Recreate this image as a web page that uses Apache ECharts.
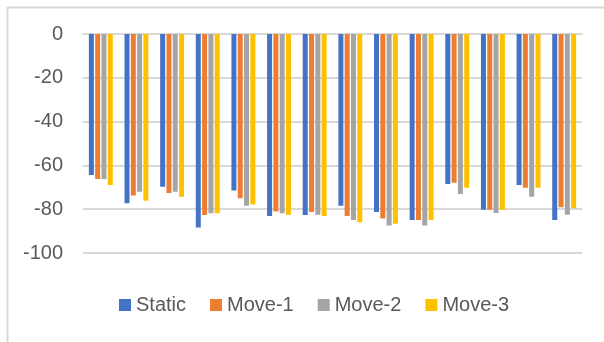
<!DOCTYPE html>
<html>
<head>
<meta charset="utf-8">
<script src="https://cdn.jsdelivr.net/npm/echarts@6/dist/echarts.min.js"></script>
<style>
  html, body { margin: 0; padding: 0; background: #fff; }
  #chart { width: 604px; height: 342px; }
</style>
</head>
<body>
<div id="chart"></div>
<script>
// Groups along the x axis (not labelled)
const categories = ['1', '2', '3', '4', '5', '6', '7', '8', '9', '10', '11', '12', '13', '14'];

// Values per series
const staticValues = [-64.4, -77.3, -69.7, -88.4, -71.5, -83.1, -82.6, -78.4, -81.3, -84.9, -68.5, -80.2, -68.9, -84.9];
const move1Values  = [-66.2, -73.7, -72.6, -82.6, -75.0, -81.1, -81.3, -83.1, -84.3, -84.9, -67.9, -80.2, -70.2, -79.1];
const move2Values  = [-66.2, -72.0, -72.0, -81.9, -78.4, -81.9, -82.5, -84.9, -87.4, -87.4, -73.1, -81.7, -74.3, -82.5];
const move3Values  = [-68.9, -76.1, -74.3, -81.9, -77.8, -82.5, -83.1, -86.0, -86.6, -84.9, -70.2, -80.2, -70.2, -79.6];

const seriesNames = ['Static', 'Move-1', 'Move-2', 'Move-3'];
const seriesColors = ['#4472C4', '#ED7D31', '#A5A5A5', '#FFC000'];
const seriesValues = [staticValues, move1Values, move2Values, move3Values];

// Y axis range and step
const yMin = -100;
const yMax = 0;
const yStep = 20;

const textColor = '#595959';
const gridColor = '#d9d9d9';
const fontFamily = '"Liberation Sans", Arial, sans-serif';

const chart = echarts.init(document.getElementById('chart'), null, { renderer: 'canvas' });

chart.setOption({
  animation: false,
  backgroundColor: '#ffffff',
  graphic: [{
    type: 'rect',
    left: 5, top: 5,
    shape: { x: 0, y: 0, width: 640, height: 380 },
    style: { fill: 'none', stroke: gridColor, lineWidth: 2 },
    silent: true
  }],
  grid: { left: 83, right: 22, top: 34, bottom: 89, containLabel: false },
  legend: {
    data: seriesNames,
    left: 114,
    top: 290,
    itemWidth: 12,
    itemHeight: 12,
    itemGap: 24,
    icon: 'rect',
    textStyle: { color: textColor, fontSize: 20, fontFamily: fontFamily }
  },
  xAxis: {
    type: 'category',
    data: categories,
    position: 'top',
    axisLine: { show: true, lineStyle: { color: gridColor, width: 2 } },
    axisTick: { show: false },
    axisLabel: { show: false },
    splitLine: { show: false }
  },
  yAxis: {
    type: 'value',
    min: yMin,
    max: yMax,
    interval: yStep,
    axisLine: { show: false },
    axisTick: { show: false },
    axisLabel: { color: textColor, fontSize: 20, fontFamily: fontFamily, margin: 20 },
    splitLine: { show: true, lineStyle: { color: gridColor, width: 2 } }
  },
  series: seriesNames.map((name, i) => ({
    name: name,
    type: 'bar',
    data: seriesValues[i],
    barWidth: 5,
    barGap: '26%',
    itemStyle: { color: seriesColors[i] }
  }))
});
</script>
</body>
</html>
